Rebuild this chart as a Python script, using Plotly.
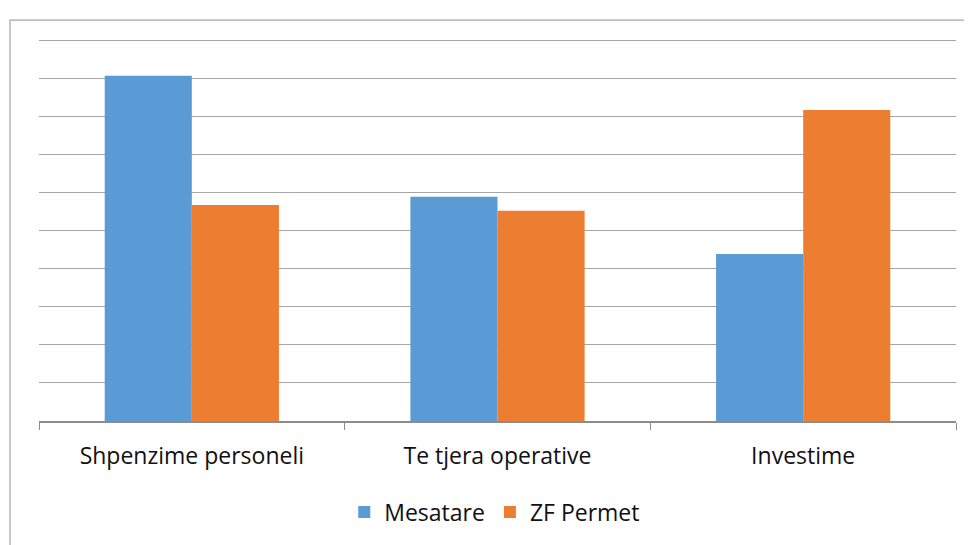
import plotly.graph_objects as go

categories = ["Shpenzime personeli", "Te tjera operative", "Investime"]
mesatare = [9.08, 5.90, 4.39]
zf_permet = [5.68, 5.53, 8.18]

fig = go.Figure()
fig.add_trace(go.Bar(x=categories, y=mesatare, name="Mesatare",
                     marker=dict(color="#5B9BD5", line=dict(width=0))))
fig.add_trace(go.Bar(x=categories, y=zf_permet, name="ZF Permet",
                     marker=dict(color="#ED7D31", line=dict(width=0))))

# page body offsets the figure by 8px; compensate in margins
# plot area: y range 0..10.1 over 384px -> value 10 sits at ~41px
fig.update_layout(
    width=964, height=537,
    margin=dict(l=31, r=16, t=29, b=124, autoexpand=False),
    paper_bgcolor="white", plot_bgcolor="white",
    barmode="group", bargap=0.43, bargroupgap=0,
    font=dict(family="Open Sans", size=23, color="#111111"),
    showlegend=True,
    legend=dict(orientation="h", x=0.497, xanchor="center", y=-0.237, yanchor="middle",
                font=dict(size=23), tracegroupgap=0, itemwidth=30),
    xaxis=dict(showgrid=False, showline=True, linecolor="#8C8C8C", linewidth=1.5,
               ticks="outside", tickson="boundaries", ticklen=7, tickcolor="#8C8C8C",
               tickfont=dict(size=23), ticklabelstandoff=14),
    yaxis=dict(range=[0, 10.1], dtick=1, showticklabels=False, showgrid=True,
               gridcolor="#A6A6A6", gridwidth=1.2, zeroline=False, showline=False, ticks=""),
    shapes=[dict(type="rect", xref="paper", yref="paper", x0=-0.0316, x1=1.2, y0=-0.6, y1=1.044,
                 line=dict(color="#A6A6A6", width=1.2), fillcolor="rgba(0,0,0,0)", layer="below")],
)

fig.write_html("out.html")
